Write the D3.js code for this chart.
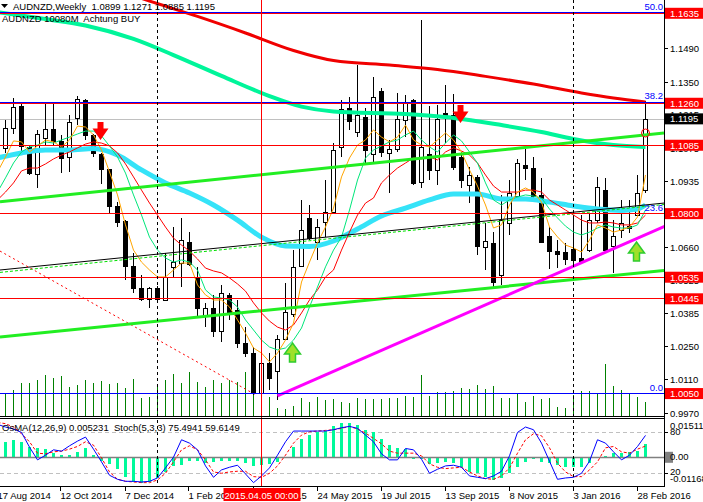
<!DOCTYPE html>
<html><head><meta charset="utf-8">
<script src="https://cdn.jsdelivr.net/npm/d3@7"></script>
<style>
body{margin:0;background:#fff;overflow:hidden}
svg{display:block;font-family:"Liberation Sans",Arial,sans-serif;font-size:9.5px}
text{white-space:pre}
</style></head><body>
<svg id="c" width="703" height="502"></svg>
<script>
// ---------- DATA (weekly AUDNZD, bar 0 = 24 Aug 2014) ----------
const opens=[1.1072,1.1156,1.1249,1.1076,1.0964,1.1114,1.1151,1.1103,1.1037,1.1197,
1.1274,1.1128,1.1049,1.0985,1.0832,1.0769,1.0582,1.0489,1.0443,1.0489,
1.0443,1.0579,1.0593,1.0683,1.0530,1.0377,1.0405,1.0308,1.0461,1.0398,
1.0260,1.0218,1.0051,1.0176,1.0141,1.0280,1.0385,1.0582,1.0781,1.0683,
1.0766,1.0808,1.1076,1.1242,1.1139,1.1204,1.1051,1.1312,1.1051,1.1068,
1.1193,1.1274,1.0933,1.1049,1.0979,1.1218,1.1211,1.1035,1.0919,1.0954,
1.0662,1.0679,1.0544,1.0762,1.0873,1.1003,1.0989,1.0878,1.0707,1.0646,
1.0641,1.0653,1.0614,1.0648,1.0773,1.0898,1.0665,1.0732,1.0748,1.0794,1.0899];
const highs=[1.1190,1.1281,1.1260,1.1086,1.1149,1.1267,1.1267,1.1128,1.1211,1.1290,
1.1277,1.1130,1.1051,1.0987,1.0850,1.0772,1.0635,1.0544,1.0495,1.0500,
1.0635,1.0746,1.0781,1.0725,1.0579,1.0428,1.0461,1.0503,1.0468,1.0440,
1.0329,1.0245,1.0190,1.0218,1.0294,1.0510,1.0648,1.0857,1.0836,1.0776,
1.0940,1.1093,1.1274,1.1285,1.1419,1.1239,1.1368,1.1322,1.1107,1.1302,
1.1294,1.1277,1.1607,1.1249,1.1253,1.1336,1.1297,1.1058,1.0996,1.0961,
1.0760,1.0725,1.0878,1.0940,1.1026,1.1068,1.1035,1.0947,1.0746,1.0690,
1.0676,1.0794,1.0794,1.0801,1.0954,1.0947,1.0773,1.0857,1.0857,1.0961,1.1271];
const lows=[1.1051,1.1132,1.1058,1.0961,1.0906,1.1086,1.1086,1.0968,1.0975,1.1169,
1.1107,1.1037,1.0924,1.0804,1.0746,1.0523,1.0470,1.0437,1.0405,1.0437,
1.0440,1.0537,1.0495,1.0580,1.0370,1.0329,1.0285,1.0266,1.0357,1.0239,
1.0204,1.0044,1.0045,1.0065,1.0023,1.0273,1.0370,1.0579,1.0690,1.0607,
1.0704,1.0800,1.1037,1.1149,1.1121,1.1010,1.1010,1.1037,1.0885,1.1058,
1.1121,1.0919,1.0906,1.0940,1.0919,1.1094,1.0982,1.0906,1.0843,1.0628,
1.0565,1.0495,1.0503,1.0711,1.0870,1.0940,1.0857,1.0676,1.0568,1.0572,
1.0586,1.0579,1.0598,1.0641,1.0760,1.0644,1.0554,1.0697,1.0718,1.0790,1.0885];
const closes=[1.1156,1.1243,1.1082,1.0968,1.1132,1.1151,1.1100,1.1031,1.1181,1.1277,
1.1128,1.1051,1.0985,1.0829,1.0766,1.0582,1.0489,1.0443,1.0489,1.0443,
1.0537,1.0600,1.0690,1.0593,1.0405,1.0405,1.0308,1.0468,1.0391,1.0260,
1.0218,1.0051,1.0176,1.0114,1.0276,1.0391,1.0579,1.0732,1.0697,1.0746,
1.0808,1.1065,1.1235,1.1187,1.1211,1.1065,1.1287,1.1058,1.1068,1.1193,
1.1267,1.0929,1.1079,1.0982,1.1193,1.1211,1.0996,1.0940,1.0961,1.0665,
1.0687,1.0516,1.0773,1.0885,1.1012,1.0991,1.0871,1.0683,1.0646,1.0632,
1.0610,1.0607,1.0600,1.0773,1.0910,1.0648,1.0707,1.0762,1.0739,1.0887,1.1195];
const volumes=[22.7,26,32.7,33.3,36,41,37.7,40,29.3,31,
36,33.3,35.3,32,33.3,28.3,36.7,18.3,19.3,31,
36,42,33.3,44.3,34.3,29.3,36,32.7,36,34.3,
44.3,35.3,31,19.3,7.7,6.7,10,18.3,14.3,19.3,
16,17.5,14.3,12.7,18.3,16.7,16.7,16.7,17.7,17.7,
20,19.3,41,20,24.3,23.7,25.3,27.7,26.7,31,
26.7,30,17.7,17.7,22.7,14.3,20,17,18.3,8.7,
7.7,21,25,25,22.7,51.7,30,26,22.7,19.3,14.3];
// short moving averages, first value = bar -1
const maOrange=[1.0974,1.1036,1.1103,1.1099,1.1057,1.1082,1.1107,1.1099,1.1078,1.1107,1.1165,
1.1161,1.1128,1.1065,1.0974,1.0878,1.0753,1.0648,1.0598,1.0565,1.0536,
1.0536,1.0565,1.0594,1.0594,1.0503,1.0461,1.0440,1.0440,1.0411,1.0357,
1.0302,1.0240,1.0219,1.0182,1.0219,1.0273,1.0344,1.0515,1.0598,1.0678,
1.0744,1.0823,1.0953,1.1032,1.1086,1.1107,1.1149,1.1119,1.1099,1.1119,
1.1169,1.1107,1.1086,1.1078,1.1107,1.1136,1.1107,1.1057,1.0982,1.0915,
1.0836,1.0740,1.0753,1.0836,1.0890,1.0907,1.0890,1.0848,1.0744,1.0703,
1.0669,1.0657,1.0640,1.0690,1.0753,1.0740,1.0723,1.0732,1.0744,1.0786,1.0961];
const maGreen=[1.0890,1.0949,1.1011,1.1057,1.1078,1.1086,1.1099,1.1094,1.1107,1.1119,1.1132,
1.1144,1.1144,1.1124,1.1082,1.1036,1.0969,1.0878,1.0794,1.0702,1.0648,
1.0615,1.0598,1.0607,1.0598,1.0565,1.0482,1.0453,1.0448,1.0440,1.0411,
1.0357,1.0315,1.0273,1.0244,1.0232,1.0240,1.0273,1.0323,1.0411,1.0494,
1.0578,1.0648,1.0702,1.0815,1.0940,1.1032,1.1065,1.1082,1.1099,1.1107,
1.1128,1.1144,1.1107,1.1078,1.1057,1.1094,1.1128,1.1103,1.1057,1.1011,
1.0928,1.0857,1.0836,1.0857,1.0869,1.0878,1.0873,1.0865,1.0819,1.0782,
1.0748,1.0723,1.0711,1.0723,1.0740,1.0753,1.0744,1.0740,1.0740,1.0753,1.0815];
const maRed=[1.0857,1.0890,1.0928,1.0978,1.0990,1.0990,1.1007,1.1028,1.1044,1.1057,1.1074,
1.1090,1.1099,1.1094,1.1082,1.1053,1.1007,1.0953,1.0898,1.0844,1.0794,
1.0744,1.0698,1.0669,1.0644,1.0611,1.0573,1.0561,1.0553,1.0532,1.0507,
1.0477,1.0428,1.0386,1.0352,1.0327,1.0315,1.0336,1.0386,1.0440,1.0482,
1.0536,1.0565,1.0648,1.0723,1.0794,1.0844,1.0865,1.0928,1.0961,1.0990,
1.1011,1.1032,1.1028,1.1036,1.1024,1.1057,1.1074,1.1061,1.1044,1.1011,
1.0961,1.0915,1.0890,1.0890,1.0890,1.0898,1.0898,1.0890,1.0857,1.0836,
1.0815,1.0794,1.0773,1.0761,1.0761,1.0765,1.0761,1.0753,1.0753,1.0761,1.0794];
// long moving averages (sampled bars)
const maLongRedIdx=[-1,12,18,24,30,36,41,48,54,60,66,72,76,80];
const maLongRedVal=[1.1899,1.1753,1.1686,1.1622,1.1553,1.1480,1.1438,1.1419,1.1401,1.1372,1.1340,1.1303,1.1282,1.1265];
const maMintIdx=[-1,5,10,16,21,27,33,37,41,50,56,62,67,71,76,80];
const maMintVal=[1.1640,1.1611,1.1584,1.1528,1.1461,1.1374,1.1290,1.1246,1.1226,1.1215,1.1199,1.1169,1.1140,1.1111,1.1086,1.1078];
const maAquaIdx=[-1,2,5,8,11,14,17,20,23,26,29,32,35,38,41,44,47,50,53,56,59,62,65,68,71,74,77,79,80];
const maAquaVal=[1.1032,1.1053,1.1065,1.1065,1.1071,1.1044,1.0982,1.0928,1.0886,1.0836,1.0773,1.0702,1.0665,1.0663,1.0686,1.0736,1.0790,1.0823,1.0857,1.0882,1.0882,1.0861,1.0861,1.0848,1.0832,1.0819,1.0813,1.0819,1.0836];
// oscillators
const osma=[0.00604,0.00672,0.00604,0.00380,0.00340,0.00300,0.00140,0.00072,0.00072,0.00204,
0.00340,0.00072,-0.00168,-0.00288,-0.00500,-0.00796,-0.00996,-0.01036,-0.00996,-0.00860,
-0.00596,-0.00356,-0.00328,-0.00168,-0.00168,-0.00260,-0.00196,-0.00156,-0.00168,-0.00168,
-0.00260,-0.00368,-0.00328,-0.00288,-0.00196,-0.00010,0.00404,0.00700,0.00872,0.01004,
0.01044,0.01232,0.01364,0.01340,0.01272,0.01072,0.00980,0.00700,0.00472,0.00340,
0.00300,-0.00076,-0.00100,-0.00288,-0.00236,-0.00196,-0.00260,-0.00420,-0.00596,-0.00660,
-0.00796,-0.00928,-0.00860,-0.00660,-0.00396,-0.00196,-0.00100,-0.00196,-0.00260,-0.00328,
-0.00396,-0.00420,-0.00396,-0.00260,-0.00010,0.00032,0.00140,0.00140,0.00204,0.00244,0.005231];
// stochastic, first value = bar -1
const stochMain=[92,88,85,80,58,39,46,54,52,60,67,
73,55,36,16,10,7,7,6,7,12,
27,43,69,64,54,30,13,24,28,31,
18,5,15,27,46,66,82,82,82,82,
82,84,87,89,86,76,66,48,39,39,
56,54,40,19,25,30,31,28,15,13,
11,15,22,45,80,88,84,64,37,10,
12,13,19,37,69,64,51,39,46,59,75.4941];
const stochSignal=[95,93,88,78,66,49,48,51,52,55,59,
66,61,42,21,10,7,6,5,5,9,
19,36,54,60,54,39,21,19,21,22,
22,14,13,19,30,46,64,76,81,82,
83,84,86,89,85,79,71,63,52,49,
49,49,45,33,28,26,27,28,21,15,
11,10,15,27,49,69,78,75,57,34,
21,14,14,24,36,57,59,51,49,55,59.6149];
// objects
const hLines=[1.1635,1.1260,1.1085,1.0800,1.0535,1.0445,1.0050];
const bidPrice=1.1195;
const priceTicks=[1.1630,1.1490,1.1350,1.1215,1.1075,1.0935,1.0660,1.0525,1.0385,1.0250,1.0110,0.9970];
const fibBase=1.0050, fibRange=0.3176;
const fibLevels=[0,23.6,38.2,50.0];
const fibLabels=["0.0","23.6","38.2","50.0"];
const limeUpper=[[-0.6875,1.0849],[82.3125,1.1136]];
const limeLower=[[-0.6875,1.0286],[82.3125,1.0563]];
const blackLine=[[-0.6875,1.0565],[82.3125,1.0844]];
const greenDash=[[-0.6875,1.0555],[82.3125,1.0838]];
const magentaLine=[[34,1.0040],[82.44,1.0748]];
const redDash=[[-0.6875,1.0644],[31.31,1.0044]];
const arrowIdx=[11,56,35,78];
const arrowTip=[1.1107,1.1178,1.0261,1.0682];
const arrowDir=["down","down","up","up"];
const circleIdx=80, circlePrice=1.1136;
const yearSepIdx=[19,71];
const cursorIdx=32, cursorLabel="2015.04.05 00:00";
const dateTickIdx=[-1,7,15,23,31,39,47,55,63,71,79];
const dateTickLabels=["17 Aug 2014","12 Oct 2014","7 Dec 2014","1 Feb 2015","29 Mar 2015","24 May 2015","19 Jul 2015","13 Sep 2015","8 Nov 2015","3 Jan 2016","28 Feb 2016"];
const headerText="AUDNZD,Weekly  1.0899 1.1271 1.0885 1.1195";
const subText="AUDNZD 10080M  Achtung BUY";
const indText="OsMA(12,26,9) 0.005231  Stoch(5,3,3) 75.4941 59.6149";

// ---------- SCALES ----------
const PW=664, MB=416, IT=419, IB=486;
const x=d3.scaleLinear().domain([0,80]).range([5.5,645.5]);
const y=d3.scaleLinear().domain([0.99565,1.16904]).range([MB,0]);
const yv=d3.scaleLinear().domain([0,100]).range([MB,MB-100]);
const yo=d3.scaleLinear().domain([-0.01168,0.015112]).range([IB,IT]);
const ys=d3.scaleLinear().domain([0,100]).range([IB,IT]);

const svg=d3.select('#c');
const defs=svg.append('defs');
defs.append('clipPath').attr('id','cm').append('rect').attr('x',0).attr('y',0).attr('width',PW).attr('height',MB);
defs.append('clipPath').attr('id','ci').append('rect').attr('x',0).attr('y',IT).attr('width',PW).attr('height',IB-IT);
const main=svg.append('g').attr('clip-path','url(#cm)');
const ind=svg.append('g').attr('clip-path','url(#ci)');
const idx=d3.range(opens.length);

// separators
yearSepIdx.forEach(i=>{
  svg.append('line').attr('x1',x(i)-0.5).attr('x2',x(i)-0.5).attr('y1',0).attr('y2',IB+1)
    .attr('stroke','#000').attr('stroke-dasharray','3,3').attr('shape-rendering','crispEdges');
});
// bid line
main.append('line').attr('x1',0).attr('x2',PW).attr('y1',Math.round(y(bidPrice))+0.5).attr('y2',Math.round(y(bidPrice))+0.5)
  .attr('stroke','#c0c0c0').attr('shape-rendering','crispEdges');
// volumes
main.selectAll('line.vol').data(idx).join('line').attr('class','vol')
  .attr('x1',i=>x(i)).attr('x2',i=>x(i)).attr('y1',MB).attr('y2',i=>yv(volumes[i]))
  .attr('stroke','#008000').attr('shape-rendering','crispEdges');
// candles
main.selectAll('line.wick').data(idx).join('line').attr('class','wick')
  .attr('x1',i=>x(i)).attr('x2',i=>x(i)).attr('y1',i=>y(highs[i])).attr('y2',i=>y(lows[i]))
  .attr('stroke','#000').attr('shape-rendering','crispEdges');
main.selectAll('rect.body').data(idx).join('rect').attr('class','body')
  .attr('x',i=>x(i)-2).attr('width',4)
  .attr('y',i=>Math.round(y(Math.max(opens[i],closes[i])))+0.5)
  .attr('height',i=>Math.max(1,Math.round(Math.abs(y(opens[i])-y(closes[i])))))
  .attr('fill',i=>closes[i]>=opens[i]?'#fff':'#000').attr('stroke','#000').attr('shape-rendering','crispEdges');

// moving averages
const longLine=(ix,vals,col,w)=>{
  const pts=ix.map((d,k)=>[x(d),y(vals[k])]);
  main.append('path').attr('d',d3.line().curve(d3.curveMonotoneX)(pts)).attr('fill','none').attr('stroke',col).attr('stroke-width',w);
};
longLine(maAquaIdx,maAquaVal,'#35e3f8',5);
longLine(maMintIdx,maMintVal,'#00f59a',4);
longLine(maLongRedIdx,maLongRedVal,'#f00000',3);
const shortLine=(vals,col)=>{
  main.append('path').attr('d',d3.line().x((d,k)=>x(k-1)).y(d=>y(d))(vals)).attr('fill','none').attr('stroke',col).attr('stroke-width',1);
};
shortLine(maRed,'#ff0000');
shortLine(maGreen,'#00e67a');
shortLine(maOrange,'#ffa500');

// trend lines
const seg=(p,col,w,dash)=>{
  const l=main.append('line').attr('x1',x(p[0][0])).attr('y1',y(p[0][1])).attr('x2',x(p[1][0])).attr('y2',y(p[1][1]))
    .attr('stroke',col).attr('stroke-width',w);
  if(dash) l.attr('stroke-dasharray',dash);
};
seg(blackLine,'#000',1);
seg(greenDash,'#00e000',1,'3,2');
seg(redDash,'#ff0000',1,'2,3');
seg(limeUpper,'#22ee22',3);
seg(limeLower,'#22ee22',3);
seg(magentaLine,'#ff00ff',3);

// horizontal lines + fibo
const fibPrice=l=>fibBase+fibRange*l/100;
const hl=(yy,col,w)=>main.append('line').attr('x1',0).attr('x2',PW).attr('y1',yy).attr('y2',yy)
  .attr('stroke',col).attr('stroke-width',w).attr('shape-rendering','crispEdges');
hl(Math.floor(y(fibPrice(23.6)))+0.5,'#0000ff',1);
hLines.forEach(p=>hl(Math.floor(y(p))+0.5,'#ff0000',1));
fibLevels.forEach(l=>{
  if(l===23.6) return;
  hl(Math.floor(y(fibPrice(l)))+0.5,'#0000ff',1);
});
fibLevels.forEach((l,k)=>{
  main.append('text').attr('x',663).attr('y',y(fibPrice(l))-3).attr('text-anchor','end').attr('fill','#0000ff').text(fibLabels[k]);
});

// arrows
arrowIdx.forEach((i,k)=>{
  const cx=x(i)+7, t=y(arrowTip[k]);
  let pts;
  if(arrowDir[k]==='down'){
    const top=t-18, hy=t-11.5;
    pts=[[cx-8,hy],[cx-3,hy],[cx-3,top],[cx+3,top],[cx+3,hy],[cx+8,hy],[cx,t]];
    main.append('polygon').attr('points',pts.map(p=>p.join(',')).join(' ')).attr('fill','#ff0000');
  } else {
    const bot=t+19, hy=t+11;
    pts=[[cx,t],[cx+8,hy],[cx+3,hy],[cx+3,bot],[cx-3,bot],[cx-3,hy],[cx-8,hy]];
    main.append('polygon').attr('points',pts.map(p=>p.join(',')).join(' ')).attr('fill','#9fe02a').attr('stroke','#2ecc2e').attr('stroke-width',1.5);
  }
});
main.append('circle').attr('cx',x(circleIdx)).attr('cy',y(circlePrice)).attr('r',4).attr('fill','none').attr('stroke','#ff0000');

// ---------- INDICATOR PANEL ----------
ind.append('line').attr('x1',0).attr('x2',PW).attr('y1',Math.round(ys(80))+0.5).attr('y2',Math.round(ys(80))+0.5).attr('stroke','#c0c0c0').attr('stroke-dasharray','4,3');
ind.append('line').attr('x1',0).attr('x2',PW).attr('y1',Math.round(ys(20))+0.5).attr('y2',Math.round(ys(20))+0.5).attr('stroke','#c0c0c0').attr('stroke-dasharray','4,3');
ind.selectAll('rect.os').data(idx).join('rect').attr('class','os')
  .attr('x',i=>x(i)-1.5).attr('width',3)
  .attr('y',i=>Math.min(yo(0),yo(osma[i]))).attr('height',i=>Math.abs(yo(0)-yo(osma[i])))
  .attr('fill','#00fa9a').attr('shape-rendering','crispEdges');
ind.append('line').attr('x1',0).attr('x2',PW).attr('y1',Math.round(yo(0))+0.5).attr('y2',Math.round(yo(0))+0.5).attr('stroke','#808080').attr('stroke-width',1.5);
ind.append('path').attr('d',d3.line().x((d,k)=>x(k-1)).y(d=>ys(d))(stochSignal)).attr('fill','none').attr('stroke','#ff0000').attr('stroke-dasharray','3,2');
ind.append('path').attr('d',d3.line().x((d,k)=>x(k-1)).y(d=>ys(d))(stochMain)).attr('fill','none').attr('stroke','#0000ff');

// cursor vertical
svg.append('line').attr('x1',x(cursorIdx)).attr('x2',x(cursorIdx)).attr('y1',0).attr('y2',IB+1).attr('stroke','#ff0000').attr('shape-rendering','crispEdges');

// borders
const bl=(x1,y1,x2,y2)=>svg.append('line').attr('x1',x1).attr('y1',y1).attr('x2',x2).attr('y2',y2).attr('stroke','#000').attr('shape-rendering','crispEdges');
bl(0,MB+0.5,PW,MB+0.5);
bl(0,418.5,PW,418.5);
bl(0,IB+0.5,PW,IB+0.5);
bl(PW+0.5,0,PW+0.5,IB+1);

// ---------- RIGHT AXIS ----------
priceTicks.forEach(p=>{
  const yy=Math.round(y(p))+0.5;
  bl(PW,yy,PW+4,yy);
  svg.append('text').attr('x',670).attr('y',yy+3.5).attr('fill','#000').text(p.toFixed(4));
});
hLines.forEach(p=>{
  const yy=y(p);
  svg.append('rect').attr('x',665).attr('y',yy-5.5).attr('width',38).attr('height',11).attr('fill','#ff0000');
  svg.append('text').attr('x',670).attr('y',yy+3.5).attr('fill','#fff').text(p.toFixed(4));
});
{
  const yy=y(bidPrice);
  svg.append('rect').attr('x',665).attr('y',yy-5.5).attr('width',38).attr('height',11).attr('fill','#000');
  svg.append('text').attr('x',670).attr('y',yy+3.5).attr('fill','#fff').text(bidPrice.toFixed(4));
}
// indicator axis labels
const indLab=(t,yy)=>svg.append('text').attr('x',670).attr('y',yy+3.5).attr('fill','#000').text(t);
indLab('0.015112',425);
indLab('80',ys(80)-1);
svg.append('rect').attr('x',665).attr('y',yo(0)-5).attr('width',8).attr('height',11).attr('fill','#808080');
indLab('0.00',yo(0));
indLab('20',ys(20)-1);
indLab('-0.01168',478.5);
bl(PW,Math.round(ys(80))+0.5,PW+4,Math.round(ys(80))+0.5);
bl(PW,Math.round(ys(20))+0.5,PW+4,Math.round(ys(20))+0.5);

// ---------- DATE AXIS ----------
dateTickIdx.forEach((i,k)=>{
  const xx=Math.round(x(i))-0.5;
  bl(xx,IB+1,xx,IB+5);
  svg.append('text').attr('x',xx).attr('y',499).attr('fill','#000').text(dateTickLabels[k]);
});
svg.append('rect').attr('x',x(cursorIdx)-38).attr('y',488).attr('width',77).attr('height',13).attr('fill','#ff0000');
svg.append('text').attr('x',x(cursorIdx)).attr('y',498.5).attr('text-anchor','middle').attr('fill','#fff').text(cursorLabel);

// ---------- HEADER ----------
svg.append('path').attr('d','M1,4L8,4L4.5,8Z').attr('fill','#000');
svg.append('text').attr('x',13).attr('y',10).attr('fill','#000').text(headerText);
svg.append('text').attr('x',2).attr('y',22).attr('fill','#000').text(subText);
svg.append('text').attr('x',2).attr('y',430.5).attr('fill','#000').text(indText);
</script></body></html>
